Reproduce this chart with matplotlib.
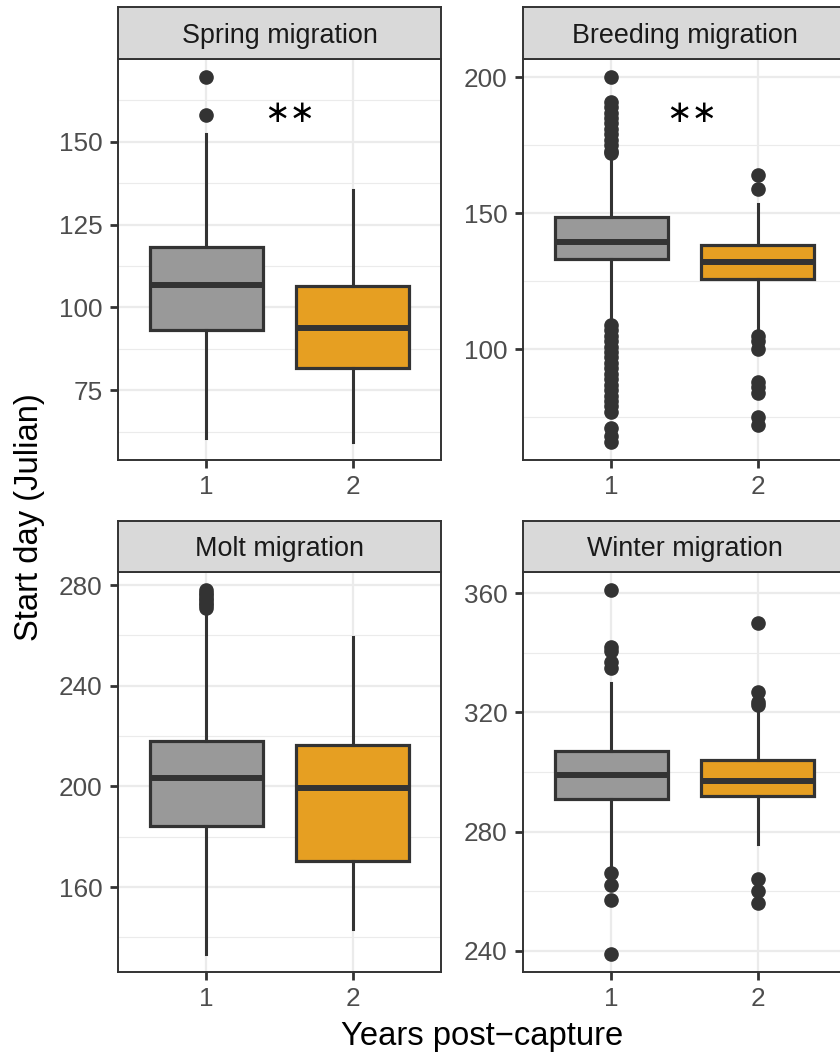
import matplotlib.pyplot as plt
from matplotlib.ticker import FixedLocator

plt.rcParams['font.family'] = ['Liberation Sans', 'DejaVu Sans']

# panel titles and group positions
panels = ['Spring migration', 'Breeding migration', 'Molt migration', 'Winter migration']
years = [1, 2]

# box statistics: (whislo, q1, med, q3, whishi)
spring_y1 = [60.5, 93.3, 106.8, 118.3, 152.5]
spring_y2 = [59.4, 81.6, 93.7, 106.5, 135.3]
spring_out1 = [158, 169.5]
spring_out2 = []

breed_y1 = [111, 133.3, 139.5, 148.7, 169.7]
breed_y2 = [107.4, 125.8, 132, 138.5, 153.3]
breed_out1 = [200, 191, 189, 187, 185, 183, 181, 179, 177, 175, 173, 172,
              109, 107, 105, 103, 101, 99, 97, 95, 93, 91, 89, 87, 85, 83,
              81, 79, 77, 71, 68, 66]
breed_out2 = [164, 159, 105, 103, 100, 88, 86, 84, 75, 72]

molt_y1 = [133.5, 184.3, 203.2, 218.2, 268.8]
molt_y2 = [143.4, 170.5, 199.5, 216.3, 259.5]
molt_out1 = [278, 277, 276, 275, 274, 273, 272, 271]
molt_out2 = []

winter_y1 = [268, 290.9, 299, 306.9, 329.7]
winter_y2 = [276, 291.8, 297, 304, 320.5]
winter_out1 = [361, 342, 340.5, 337, 335, 266, 262, 257, 239]
winter_out2 = [350, 327, 323.5, 322.5, 264, 260, 256]

stats = [(spring_y1, spring_out1, spring_y2, spring_out2),
         (breed_y1, breed_out1, breed_y2, breed_out2),
         (molt_y1, molt_out1, molt_y2, molt_out2),
         (winter_y1, winter_out1, winter_y2, winter_out2)]

major_ticks = [[75, 100, 125, 150],
               [100, 150, 200],
               [160, 200, 240, 280],
               [240, 280, 320, 360]]

# significance marks (panel index, x, y)
stars = [(0, 1.57, 158.5), (1, 1.55, 186.5)]

fills = ['#999999', '#E69F22']
dark = '#333333'

W, H = 840, 1055
fig = plt.figure(figsize=(W / 100, H / 100), dpi=100)


def rect(x0, y0, x1, y1):
    return [x0 / W, 1 - y1 / H, (x1 - x0) / W, (y1 - y0) / H]


# pixel boxes for panels (left, top, right, bottom) and strips
cols = [(118, 441), (523, 846)]
rows = [(7, 59, 460), (521, 572, 972)]

for i, name in enumerate(panels):
    c0, c1 = cols[i % 2]
    s0, p0, p1 = rows[i // 2]
    ax = fig.add_axes(rect(c0, p0, c1, p1))
    sax = fig.add_axes(rect(c0, s0, c1, p0))

    b1, o1, b2, o2 = stats[i]
    bstats = []
    for b, o in ((b1, o1), (b2, o2)):
        bstats.append(dict(whislo=b[0], q1=b[1], med=b[2], q3=b[3],
                           whishi=b[4], fliers=o))
    art = ax.bxp(bstats, positions=years, widths=0.77, showcaps=False,
                 patch_artist=True,
                 boxprops=dict(edgecolor=dark, linewidth=2.3),
                 medianprops=dict(color=dark, linewidth=4.3, solid_capstyle='butt'),
                 whiskerprops=dict(color=dark, linewidth=2.2),
                 flierprops=dict(marker='o', markerfacecolor=dark,
                                 markeredgecolor=dark, markersize=9.5))
    for patch, col in zip(art['boxes'], fills):
        patch.set_facecolor(col)

    vals = b1 + b2 + o1 + o2
    lo, hi = min(vals), max(vals)
    pad = 0.05 * (hi - lo)
    ax.set_ylim(lo - pad, hi + pad)
    ax.set_xlim(0.4, 2.6)

    mt = major_ticks[i]
    step = mt[1] - mt[0]
    minors = [mt[0] - step / 2] + [t + step / 2 for t in mt]
    ax.yaxis.set_major_locator(FixedLocator(mt))
    ax.yaxis.set_minor_locator(FixedLocator(minors))
    ax.set_xticks(years)
    ax.set_xticklabels([str(y) for y in years])

    ax.set_axisbelow(True)
    ax.grid(which='major', color='#EBEBEB', linewidth=1.6)
    ax.grid(which='minor', axis='y', color='#EBEBEB', linewidth=0.8)
    ax.tick_params(which='major', length=6, width=2.0, color=dark,
                   labelcolor='#4D4D4D', labelsize=18.8, pad=5)
    ax.tick_params(which='minor', length=0)
    for sp in ax.spines.values():
        sp.set_color(dark)
        sp.set_linewidth(1.4)

    sax.set_facecolor('#D9D9D9')
    sax.set_xticks([])
    sax.set_yticks([])
    for sp in sax.spines.values():
        sp.set_color(dark)
        sp.set_linewidth(1.4)
    sax.text(0.5, 0.31, name, ha='center', va='baseline', fontsize=19.4,
             color='#1A1A1A', transform=sax.transAxes)

    for k, sx, sy in stars:
        if k == i:
            ax.text(sx, sy, '\u2217\u2217', ha='center', va='center',
                    fontsize=22, color='black', family='DejaVu Sans')

fig.text(482 / W, 1 - 1037 / H, 'Years post\u2212capture', ha='center',
         va='center', fontsize=23.6, color='black')
fig.text(30 / W, 1 - 517 / H, 'Start day (Julian)', ha='center',
         va='center', rotation=90, fontsize=23.6, color='black')

fig.savefig('out.png', dpi=100)
